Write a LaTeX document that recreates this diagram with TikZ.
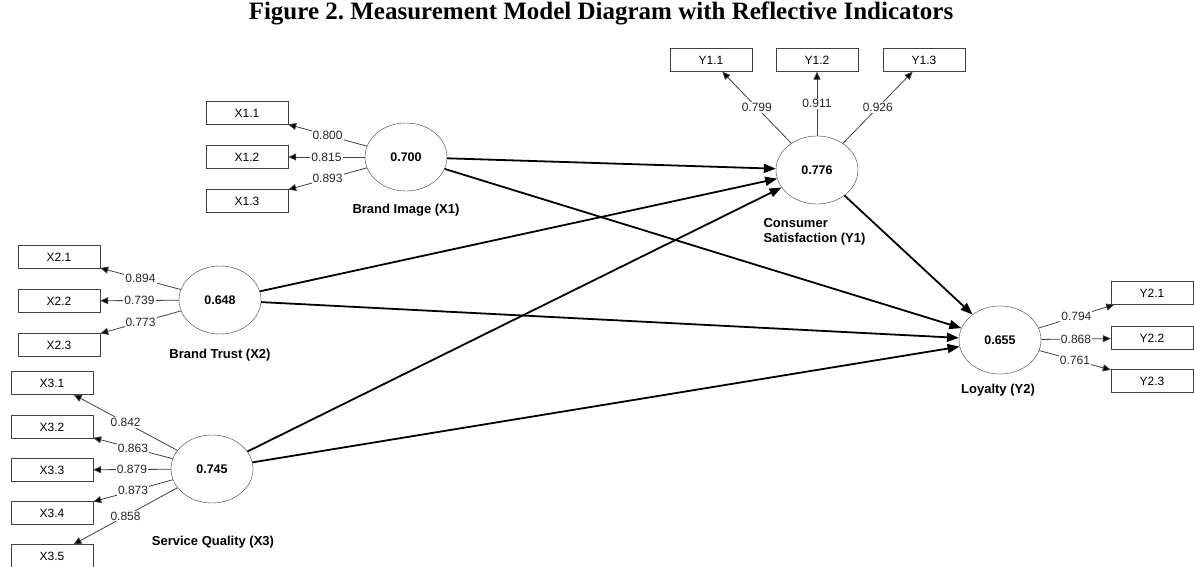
\documentclass[tikz,border=0pt]{standalone}
\usepackage{fontspec}
\setmainfont{Liberation Serif}
\setsansfont{Liberation Sans}
\usetikzlibrary{shapes.geometric,arrows.meta}
\frenchspacing

\begin{document}
\begin{tikzpicture}[x=1pt,y=-1pt]
    \tikzset{
    lat/.style={ellipse,draw=black!75,fill=white,minimum width=82,minimum height=68,inner sep=0pt,font=\fontsize{12.5}{14}\sffamily\bfseries},
    ind/.style={rectangle,draw=black!75,fill=white,minimum width=82,minimum height=23,inner sep=0pt,font=\fontsize{12}{14}\sffamily},
    nm/.style={font=\fontsize{13}{15}\sffamily\bfseries},
    lab/.style={fill=white,inner sep=1pt,font=\fontsize{12}{14}\sffamily,text=black!85},
    c1/.style={draw=black!75,line width=0.8pt,-{Triangle[length=8pt,width=7pt]}},
    c2/.style={draw=black,line width=1.8pt,-{Triangle[length=12pt,width=9pt]}},
    }
    \useasboundingbox (0,0) rectangle (1194,567);
    \node[font=\fontsize{25}{29}\selectfont\bfseries] (title) at (601,13) {Figure 2. Measurement Model Diagram with Reflective Indicators};

    % latent variables
    \node[lat] (x1) at (406,157) {0.700};
    \node[lat] (x2) at (220,300) {0.648};
    \node[lat] (x3) at (212,469) {0.745};
    \node[lat] (y1) at (817,170) {0.776};
    \node[lat] (y2) at (1000,340) {0.655};

    \node[nm] (nx1) at (406,210) {Brand Image (X1)};
    \node[nm] (nx2) at (220,355) {Brand Trust (X2)};
    \node[nm] (nx3) at (213,542) {Service Quality (X3)};
    \node[nm,align=left,anchor=west] (ny1) at (760,232) {Consumer\\Satisfaction (Y1)};
    \node[nm] (ny2) at (998,390) {Loyalty (Y2)};

    % indicators
    \node[ind] (x11) at (247,113) {X1.1};
    \node[ind] (x12) at (247,157) {X1.2};
    \node[ind] (x13) at (247,201) {X1.3};
    \node[ind] (x21) at (59,257) {X2.1};
    \node[ind] (x22) at (59,301) {X2.2};
    \node[ind] (x23) at (59,345) {X2.3};
    \node[ind] (x31) at (52,383) {X3.1};
    \node[ind] (x32) at (52,427) {X3.2};
    \node[ind] (x33) at (52,470) {X3.3};
    \node[ind] (x34) at (52,513) {X3.4};
    \node[ind] (x35) at (52,556) {X3.5};
    \node[ind] (y11) at (711,60) {Y1.1};
    \node[ind] (y12) at (817,60) {Y1.2};
    \node[ind] (y13) at (924,60) {Y1.3};
    \node[ind] (y21) at (1152,293) {Y2.1};
    \node[ind] (y22) at (1152,338) {Y2.2};
    \node[ind] (y23) at (1152,381) {Y2.3};

    % outer loadings
    \draw[c1] (x1) edge node[lab] {0.800} (x11);
    \draw[c1] (x1) edge node[lab] {0.815} (x12);
    \draw[c1] (x1) edge node[lab] {0.893} (x13);
    \draw[c1] (x2) edge node[lab] {0.894} (x21);
    \draw[c1] (x2) edge node[lab] {0.739} (x22);
    \draw[c1] (x2) edge node[lab] {0.773} (x23);
    \draw[c1] (x3) edge node[lab] {0.842} (x31);
    \draw[c1] (x3) edge node[lab] {0.863} (x32);
    \draw[c1] (x3) edge node[lab] {0.879} (x33);
    \draw[c1] (x3) edge node[lab] {0.873} (x34);
    \draw[c1] (x3) edge node[lab] {0.858} (x35);
    \draw[c1] (y1) edge node[lab] {0.799} (y11);
    \draw[c1] (y1) edge node[lab] {0.911} (y12);
    \draw[c1] (y1) edge node[lab] {0.926} (y13);
    \draw[c1] (y2) edge node[lab] {0.794} (y21);
    \draw[c1] (y2) edge node[lab] {0.868} (y22);
    \draw[c1] (y2) edge node[lab] {0.761} (y23);

    % inner model
    \draw[c2] (x1) edge (y1);
    \draw[c2] (x1) edge (y2);
    \draw[c2] (x2) edge (y1);
    \draw[c2] (x2) edge (y2);
    \draw[c2] (x3) edge (y1);
    \draw[c2] (x3) edge (y2);
    \draw[c2] (y1) edge (y2);
\end{tikzpicture}
\end{document}
